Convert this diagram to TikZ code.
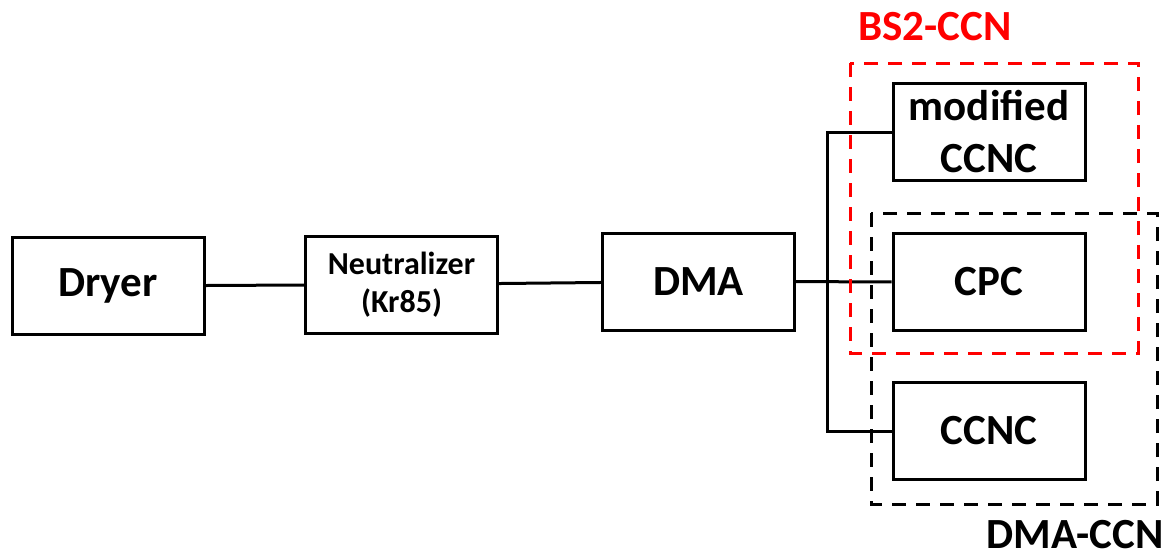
\documentclass[tikz,border=0pt]{standalone}
\usepackage{fontspec}
\setmainfont{Carlito}
\begin{document}
\begin{tikzpicture}[x=1pt, y=-1pt,
    unit/.style={draw, line width=3pt, minimum width=192pt, minimum height=97pt, inner sep=0pt, align=center, font=\fontsize{43}{52}\selectfont\bfseries},
    pipe/.style={line width=3pt},
    group/.style={line width=3pt, dash pattern=on 14pt off 10pt}]
    \useasboundingbox (0,0) rectangle (1173,558);

    \node[unit] (dryer) at (108,286) {Dryer};
    \node[unit, font=\fontsize{32}{38}\selectfont\bfseries] (neut) at (401.5,284.5) {Neutralizer\\(Kr85)};
    \node[unit] (dma) at (698.5,281.5) {DMA};
    \node[unit] (mod) at (989,132) {modified\\CCNC};
    \node[unit] (cpc) at (989,282) {CPC};
    \node[unit] (ccnc) at (989,431) {CCNC};

    \coordinate (split) at (827,282);
    \draw[pipe] (dryer) -- (neut);
    \draw[pipe] (neut) -- (dma);
    \draw[pipe] (dma) -- (cpc);
    \draw[pipe] (mod.west) -| (split) |- (ccnc.west);

    \draw[group, black] (871,213) rectangle (1157,504);
    \draw[group, red] (850,63) rectangle (1138,353);
    \node[text=red, inner sep=0pt, font=\fontsize{43}{52}\selectfont\bfseries] (bslabel) at (935,27) {BS2-CCN};
    \node[inner sep=0pt, font=\fontsize{43}{52}\selectfont\bfseries] (dmalabel) at (1075,535) {DMA-CCN};
\end{tikzpicture}
\end{document}
